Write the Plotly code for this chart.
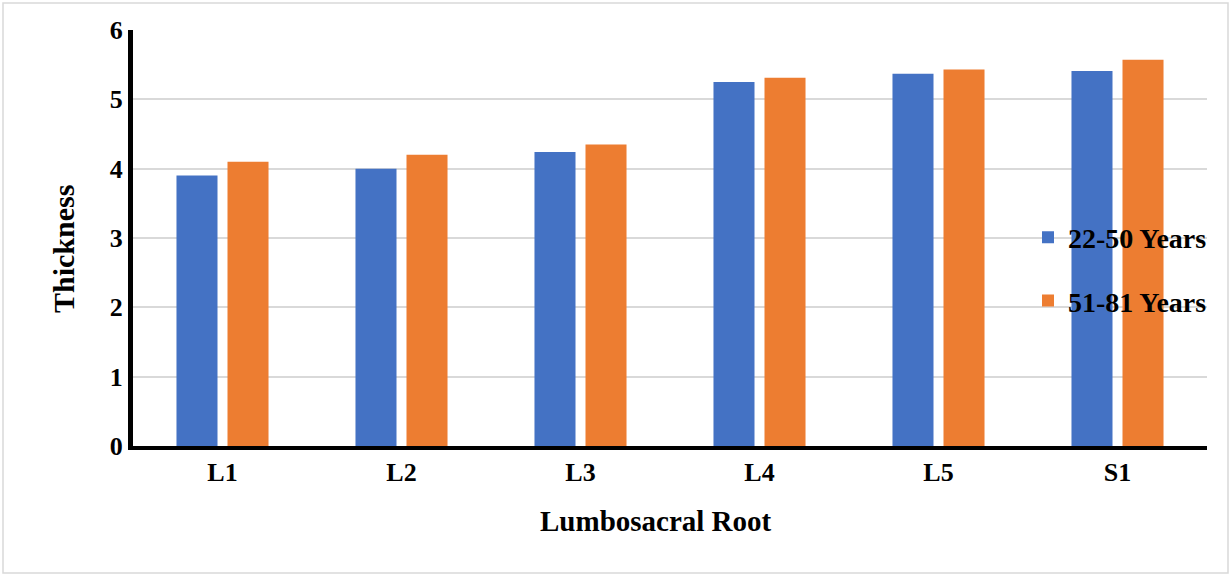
import plotly.graph_objects as go

categories = ["L1", "L2", "L3", "L4", "L5", "S1"]
young = [3.9, 4.0, 4.24, 5.25, 5.37, 5.41]
old = [4.1, 4.2, 4.35, 5.31, 5.43, 5.57]
series_names = ["22-50 Years", "51-81 Years"]
colors = ["#4472C4", "#ED7D31"]
x_title = "Lumbosacral Root"
y_title = "Thickness"

font_family = "Liberation Serif, Times New Roman, serif"

fig = go.Figure()
for i, (name, vals) in enumerate(zip(series_names, [young, old])):
    fig.add_trace(go.Bar(
        x=categories, y=vals, name=name, marker_color=colors[i],
        marker_line_width=0, legendgroup=name,
    ))

L, R, T, B = 133, 24, 30, 130
W, H = 1231, 576
pw, ph = W - L - R, H - T - B

def px_x(p):
    return (p - L) / pw

def px_y(p):
    return (H - B - p) / ph

fig.update_layout(
    width=W, height=H,
    margin=dict(l=L, r=R, t=T, b=B),
    paper_bgcolor="white", plot_bgcolor="white",
    barmode="group", bargap=0.43, bargroupgap=0.196,
    font=dict(family=font_family, size=26, color="black"),
    showlegend=True,
    legend=dict(
        x=px_x(1028), y=px_y(269), xanchor="left", yanchor="middle",
        bgcolor="rgba(0,0,0,0)", traceorder="grouped", tracegroupgap=24,
        font=dict(family=font_family, size=28, color="black", weight="bold"),
        itemwidth=30,
    ),
    xaxis=dict(
        showline=True, linecolor="black", linewidth=4,
        tickfont=dict(family=font_family, size=26, color="black", weight="bold"),
        ticks="",
    ),
    yaxis=dict(
        range=[0, 6], dtick=1, showline=True, linecolor="black", linewidth=5,
        showgrid=True, gridcolor="#d9d9d9", gridwidth=2,
        tickfont=dict(family=font_family, size=26, color="black", weight="bold"),
        ticks="", zeroline=False,
    ),
    annotations=[
        dict(text="<b>" + x_title + "</b>", xref="paper", yref="paper",
             x=px_x(656), y=px_y(521), xanchor="center", yanchor="middle",
             showarrow=False, font=dict(family=font_family, size=29, color="black")),
        dict(text="<b>" + y_title + "</b>", xref="paper", yref="paper",
             x=px_x(63), y=px_y(249), xanchor="center", yanchor="middle",
             textangle=-90, showarrow=False,
             font=dict(family=font_family, size=30, color="black")),
    ],
    shapes=[dict(
        type="rect", xref="paper", yref="paper",
        x0=px_x(3), x1=px_x(1228), y0=px_y(573), y1=px_y(3),
        line=dict(color="#d9d9d9", width=1.5), fillcolor="rgba(0,0,0,0)",
        layer="below",
    )],
)

fig.write_html(
    "out.html",
    config={"displayModeBar": False},
    post_script="document.body.style.margin='0px';document.body.style.overflow='hidden';",
)
